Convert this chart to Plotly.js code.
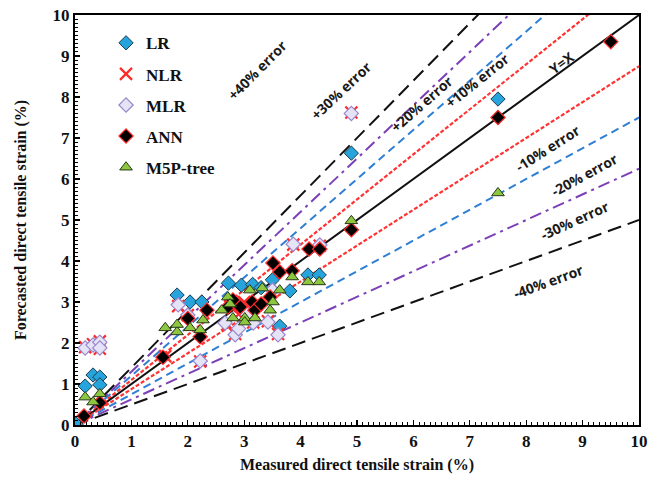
<!DOCTYPE html>
<html><head><meta charset="utf-8">
<script src="https://cdn.plot.ly/plotly-3.0.1.min.js"></script>
<style>html,body{margin:0;padding:0;background:#fff}#chart{width:649px;height:480px}</style>
</head><body><div id="chart"></div>
<script>
// Reference lines: label and slope
const refLabels = ["+40% error","+30% error","+20% error","+10% error","Y=X","-10% error","-20% error","-30% error","-40% error"];
const refSlopes = [1.4, 1.3, 1.2, 1.1, 1.0, 0.875, 0.75, 0.625, 0.5];
const refLabelX = [3.24, 4.72, 6.15, 7.13, 8.63, 8.37, 9.04, 8.85, 8.39];
const refLabelY = [8.66, 8.15, 7.85, 8.4, 8.85, 6.75, 6.1, 5.0, 3.49];

// Series (measured, forecasted)
const lrX  = [0.02,0.18,0.32,0.44,0.44,1.81,2.04,2.25,2.72,2.95,3.15,3.5,3.81,3.63,4.13,4.33,4.9,7.5,3.3];
const lrY  = [0.02,0.95,1.22,1.17,0.98,3.17,3.0,3.0,3.46,3.41,3.43,3.54,3.27,2.41,3.66,3.66,6.63,7.95,3.35];
const nlrX = [0.18,0.32,0.44,0.44,1.6,1.83,2.22,2.7,2.84,3.16,3.42,3.6,3.87,4.34,4.9,2.75,2.9,3.0,2.0];
const nlrY = [1.9,1.97,2.04,1.86,1.68,2.9,1.55,2.45,2.22,2.5,2.53,2.22,4.4,4.37,7.62,2.9,2.7,3.0,2.68];
const mlrX = [0.18,0.32,0.44,0.44,1.83,2.0,2.22,2.66,2.84,3.16,3.42,3.5,3.6,3.87,4.34,4.9,2.9,3.05];
const mlrY = [1.88,1.95,2.02,1.88,2.93,2.68,1.56,2.49,2.2,2.49,2.51,3.29,2.2,4.41,4.39,7.6,2.35,2.7];
const annX = [0.16,0.44,1.56,2.0,2.22,2.34,2.71,2.93,3.14,3.19,3.46,3.51,3.63,3.85,4.15,4.34,4.9,7.5,9.5,2.8,3.3];
const annY = [0.22,0.54,1.65,2.6,2.15,2.8,2.88,2.88,3.0,2.8,3.12,3.95,3.73,3.76,4.29,4.29,4.76,7.5,9.35,3.05,2.95];
const m5pX = [0.18,0.32,0.44,1.6,1.81,1.81,2.04,2.27,2.22,2.6,2.71,2.8,3.01,3.19,3.1,3.32,3.51,3.46,3.63,3.85,4.13,4.33,4.9,7.5,3.01,2.75];
const m5pY = [0.68,0.56,0.76,2.37,2.27,2.45,2.37,2.56,2.32,2.8,3.12,2.61,2.61,2.61,3.29,3.34,3.0,2.8,3.29,3.61,3.49,3.49,4.98,5.66,2.51,2.95];

const xMax = 10;
const refStyles = [
  {color:'#111111', dash:'14px,7px', width:2},
  {color:'#7B3FB8', dash:'12px,5px,3px,5px', width:2},
  {color:'#2F7FD3', dash:'8px,5px', width:2},
  {color:'#FF3333', dash:'4px,2px', width:2.2},
  {color:'#111111', dash:'solid', width:2},
  {color:'#FF3333', dash:'4px,2px', width:2.2},
  {color:'#2F7FD3', dash:'8px,5px', width:2},
  {color:'#7B3FB8', dash:'12px,5px,3px,5px', width:2},
  {color:'#111111', dash:'14px,7px', width:2}
];

const traces = [];
refSlopes.forEach((s,i)=>{
  traces.push({x:[0,xMax], y:[0, s*xMax], mode:'lines', type:'scatter', showlegend:false,
    hoverinfo:'skip', line:refStyles[i]});
});

const serif = 'Liberation Serif, Times New Roman, serif';
traces.push({name:'LR', x:lrX, y:lrY, mode:'markers', type:'scatter', legendgroup:'a',
  marker:{symbol:'diamond', size:11, color:'#27A4DB', line:{color:'#1d3b4f', width:1}}});
traces.push({name:'NLR', x:nlrX, y:nlrY, mode:'markers', type:'scatter', legendgroup:'b',
  marker:{symbol:'x-thin', size:12, color:'#FF2A2A', line:{color:'#FF2A2A', width:2.2}}});
traces.push({name:'MLR', x:mlrX, y:mlrY, mode:'markers', type:'scatter', legendgroup:'c',
  marker:{symbol:'diamond', size:11, color:'#E4E4F6', line:{color:'#9A86CC', width:1.2}}});
traces.push({name:'ANN', x:annX, y:annY, mode:'markers', type:'scatter', legendgroup:'d',
  marker:{symbol:'diamond', size:11, color:'#000000', line:{color:'#FF2A2A', width:1.2}}});
traces.push({name:'M5P-tree', x:m5pX, y:m5pY, mode:'markers', type:'scatter', legendgroup:'e',
  marker:{symbol:'triangle-up', size:11, color:'#8DC63F', line:{color:'#2a3a1a', width:1}}});

const annotations = refLabels.map((t,i)=>({
  x:refLabelX[i], y:refLabelY[i], xref:'x', yref:'y', text:'<b>'+t+'</b>', showarrow:false,
  textangle: -Math.atan(refSlopes[i]*41/56.4)*180/Math.PI,
  font:{family:'Open Sans, sans-serif', size:14, color:'#1a1a1a'}
}));

const axisCommon = {
  range:[0,10], dtick:1, tick0:0, ticks:'inside', ticklen:5, tickwidth:1.2, tickcolor:'#000',
  showline:true, linecolor:'#000', linewidth:2, mirror:true, showgrid:false, zeroline:false,
  ticklabeloverflow:'allow',
  tickfont:{family:serif, size:17, color:'#111', weight:'bold'},
  minor:{dtick:0.1, ticks:'inside', ticklen:3, tickwidth:1, tickcolor:'#000', showgrid:false}
};

const layout = {
  width:649, height:480,
  margin:{l:75, r:10, t:15, b:55},
  paper_bgcolor:'#fff', plot_bgcolor:'#fff',
  showlegend:true,
  legend:{x:0.055, y:0.975, xanchor:'left', yanchor:'top', bgcolor:'rgba(0,0,0,0)',
    tracegroupgap:6, itemwidth:30,
    font:{family:serif, size:17, color:'#111', weight:'bold'}},
  xaxis:Object.assign({}, axisCommon, {title:{text:'<b>Measured direct tensile strain (%)</b>', standoff:8,
    font:{family:serif, size:16, color:'#111'}}}),
  yaxis:Object.assign({}, axisCommon, {title:{text:'<b>Forecasted direct tensile strain (%)</b>', standoff:22,
    font:{family:serif, size:16, color:'#111'}}}),
  annotations:annotations
};

Plotly.newPlot('chart', traces, layout, {displayModeBar:false, staticPlot:true});
</script></body></html>
